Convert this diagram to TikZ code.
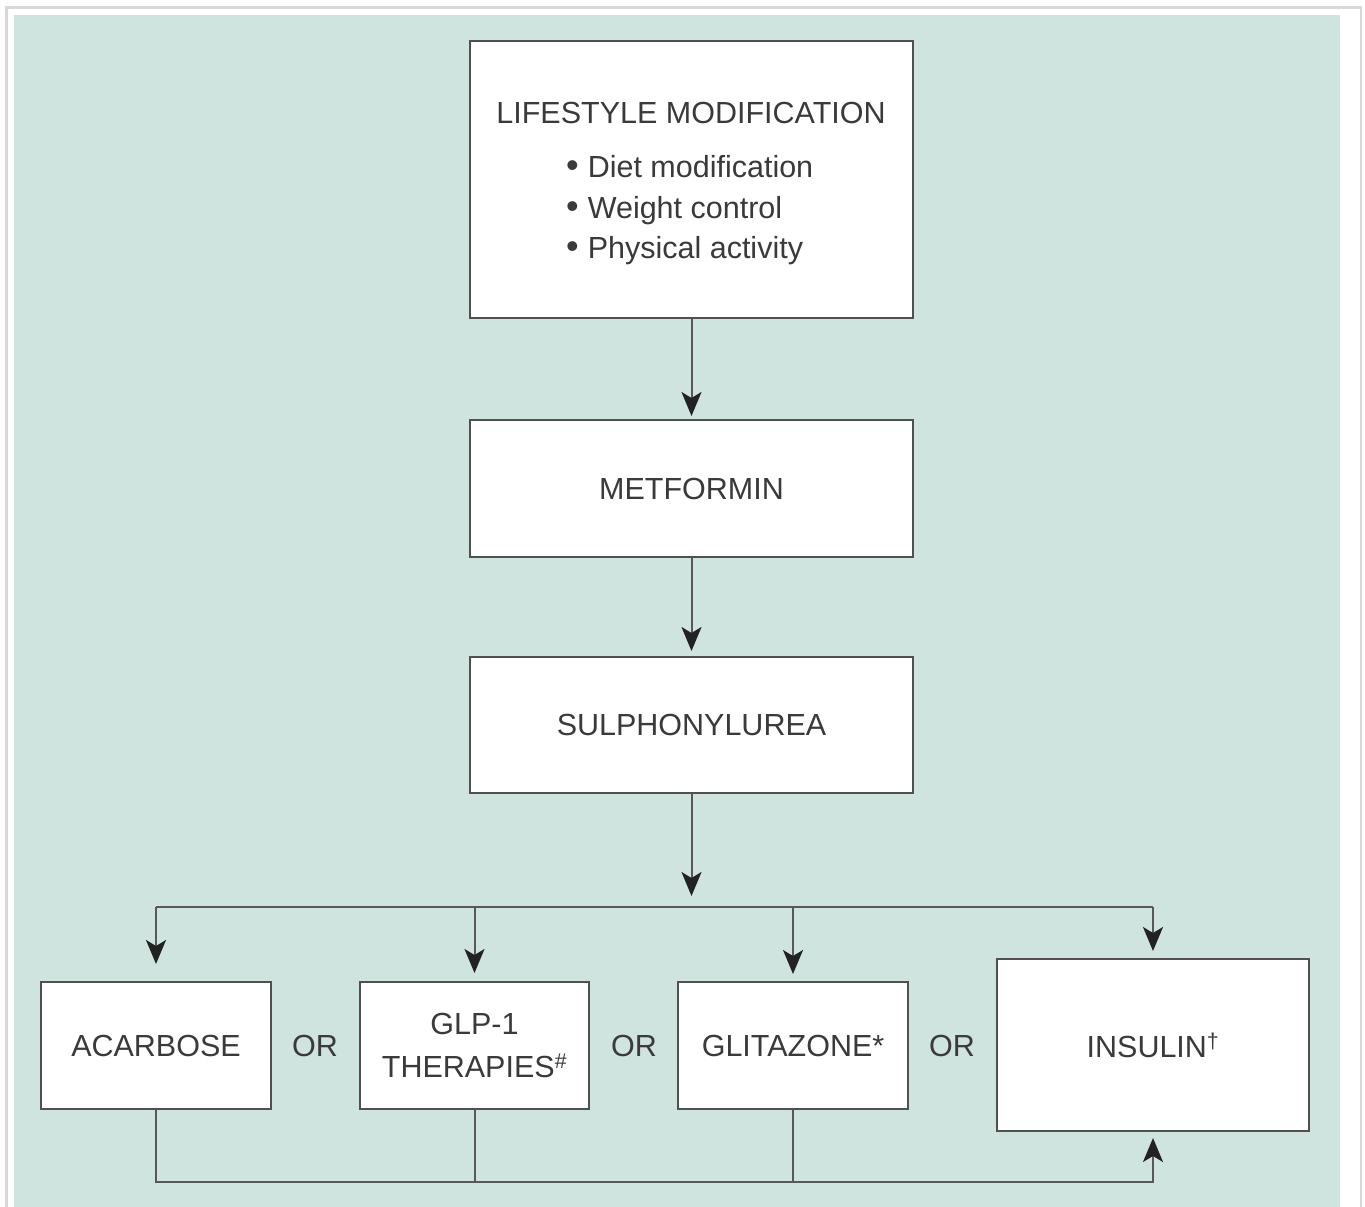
\documentclass[tikz,border=0pt]{standalone}
\usepackage{fontspec}
\setmainfont{Liberation Sans}
\usetikzlibrary{arrows.meta,calc}
\definecolor{panel}{HTML}{CFE4DE}
\definecolor{frameline}{HTML}{D8D8D8}
\definecolor{boxline}{HTML}{505050}
\definecolor{wire}{HTML}{585858}
\definecolor{txt}{HTML}{3A3A3A}
\definecolor{tip}{HTML}{222222}
\newcommand{\dotitem}{{\fontsize{36}{41}\selectfont\textbullet}\hspace{9pt}}
\tikzset{
  stepbox/.style={draw=boxline, line width=2pt, fill=white, rectangle,
    inner sep=0pt, text=txt, align=center,
    font=\fontsize{30.5}{43}\selectfont},
  label/.style={inner sep=0pt, text=txt, font=\fontsize{30.5}{41}\selectfont},
  wirestyle/.style={draw=wire, line width=2pt},
  arr/.style={wirestyle, -{Stealth[length=24pt,width=20pt,inset=6pt,fill=tip,color=tip]}}
}
\begin{document}
\begin{tikzpicture}[x=1pt,y=-1pt]
\useasboundingbox (0,0) rectangle (1365,1207);
% outer frame and tinted panel
\draw[frameline, line width=2.5pt] (6.5,1220) -- (6.5,7.5) -- (1361,7.5) -- (1361,1220);
\fill[panel] (14,15) rectangle (1340,1207);

% main chain
\node[stepbox, minimum width=443pt, minimum height=277pt] (life) at (691.5,179.5) {};
\node[label, anchor=base] (lifetitle) at (691,123) {LIFESTYLE MODIFICATION};
\node[label, anchor=base west] (item1) at (566,177) {\dotitem Diet modification};
\node[label, anchor=base west] (item2) at (566,218) {\dotitem Weight control};
\node[label, anchor=base west] (item3) at (566,258) {\dotitem Physical activity};

\node[stepbox, minimum width=443pt, minimum height=137pt] (met) at (691.5,488.5) {METFORMIN};
\node[stepbox, minimum width=443pt, minimum height=136pt] (sul) at (691.5,725) {SULPHONYLUREA};

% alternatives
\node[stepbox, minimum width=230pt, minimum height=127pt] (aca) at (156,1045.5) {ACARBOSE};
\node[stepbox, minimum width=229pt, minimum height=127pt] (glp) at (474.5,1045.5) {GLP-1\\THERAPIES\textsuperscript{\#}};
\node[stepbox, minimum width=230pt, minimum height=127pt] (gli) at (793,1045.5) {GLITAZONE*};
\node[stepbox, minimum width=312pt, minimum height=172pt] (ins) at (1153,1045) {INSULIN\textsuperscript{\textdagger}};

\node[label] (or1) at (315,1046) {OR};
\node[label] (or2) at (634,1046) {OR};
\node[label] (or3) at (952,1046) {OR};

% connectors
\coordinate (hub) at (691.5,896);
\coordinate (busL) at (156,907);
\coordinate (busR) at (1153,907);
\coordinate (bot) at (0,1182);

\draw[arr, shorten >=3pt] (life) -- (met);
\draw[arr, shorten >=5pt] (met) -- (sul);
\draw[arr] (sul) -- (hub);
\draw[wirestyle] (busL) -- (busR);
\draw[arr, shorten >=17pt] (busL) -- (aca);
\draw[arr, shorten >=8pt] (glp |- busL) -- (glp);
\draw[arr, shorten >=7pt] (gli |- busL) -- (gli);
\draw[arr, shorten >=7pt] (busR) -- (ins);

\draw[arr, shorten >=6pt] (aca.south) -- (aca.south |- bot) -| (ins.south);
\draw[wirestyle] (glp.south) -- (glp.south |- bot);
\draw[wirestyle] (gli.south) -- (gli.south |- bot);
\end{tikzpicture}
\end{document}
